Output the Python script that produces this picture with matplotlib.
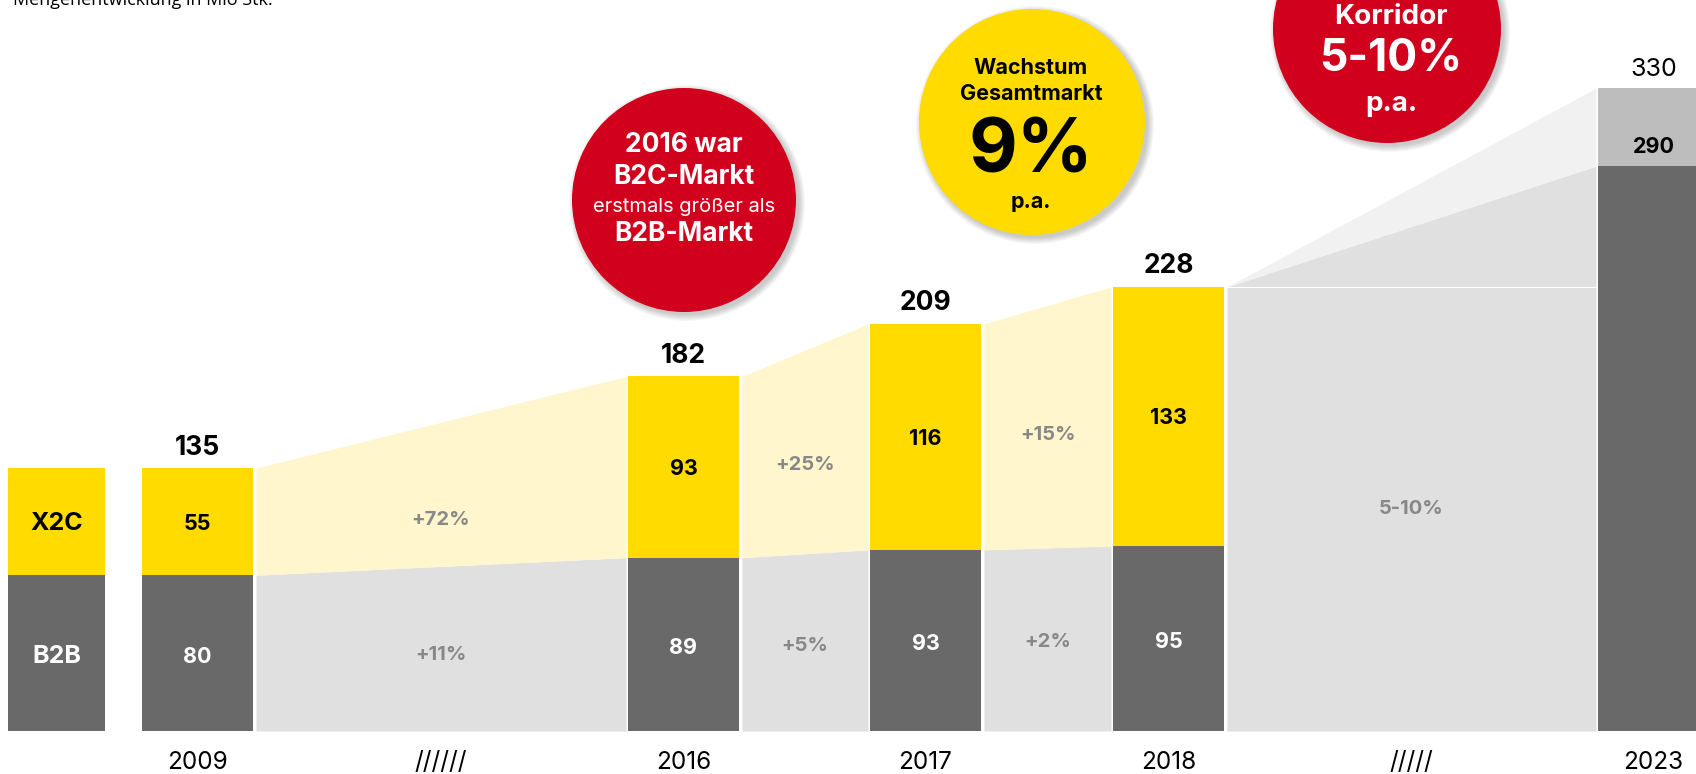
import matplotlib.pyplot as plt
from matplotlib.patches import Circle

# data (Mio Stk.)
years = ["2009", "2016", "2017", "2018"]
b2b = [80, 89, 93, 95]
x2c = [55, 93, 116, 133]
totals = [135, 182, 209, 228]
b2b_growth = ["+11%", "+5%", "+2%"]
x2c_growth = ["+72%", "+25%", "+15%"]
gap_marks = ["//////", "", "", "/////"]

forecast_year = "2023"
forecast_low = 290
forecast_high = 330
forecast_growth = "5-10%"

# colours
YEL = "#FFDB00"
YEL_LIGHT = "#FFF6CE"
DARK = "#696969"
GREY = "#E0E0E0"
GREY_LIGHT = "#F1F1F1"
GREY_MID = "#BDBDBD"
RED = "#D1001C"
TXT_GREY = "#888888"

plt.rcParams["font.family"] = ["Inter", "DejaVu Sans"]

W = 111
bar_left = [142, 628, 870, 1113]
fc_left = 1598
xc = [l + W / 2 for l in bar_left]
xf = fc_left + W / 2

px_per_unit = 1.948
fig = plt.figure(figsize=(16.96, 7.74), dpi=100)
ax = fig.add_axes([0, 0, 1, 1])
ax.set_xlim(0, 1696)
ax.set_ylim(-(774 - 731) / px_per_unit, 731 / px_per_unit)
ax.axis("off")

# legend bar
ax.bar(56.5, b2b[0], width=97, color=DARK)
ax.bar(56.5, x2c[0], bottom=b2b[0], width=97, color=YEL)
ax.text(56.5, b2b[0] / 2 - 1.5, "B2B", ha="center", va="center",
        color="white", fontsize=18, fontweight="bold")
ax.text(56.5, b2b[0] + x2c[0] / 2 - 1, "X2C", ha="center", va="center",
        color="black", fontsize=18, fontweight="bold")

# bars
ax.bar(xc, b2b, width=W, color=DARK)
ax.bar(xc, x2c, bottom=b2b, width=W, color=YEL)
ax.bar(xf, forecast_low, width=W, color=DARK)
ax.bar(xf, forecast_high - forecast_low, bottom=forecast_low, width=W,
       color=GREY_MID)

# connecting areas
for i in range(len(years) - 1):
    x0 = bar_left[i] + W + 3
    x1 = bar_left[i + 1] - 2
    ax.fill_between([x0, x1], 0, [b2b[i], b2b[i + 1]], color=GREY, lw=0)
    ax.fill_between([x0, x1], [b2b[i], b2b[i + 1]],
                    [totals[i], totals[i + 1]], color=YEL_LIGHT, lw=0)
    xm = (x0 + x1) / 2
    ax.text(xm, b2b[i] / 2 - 1, b2b_growth[i], ha="center", va="center",
            color=TXT_GREY, fontsize=14.5, fontweight="bold")
    ax.text(xm, b2b[i] + x2c[i] / 2 + 1, x2c_growth[i], ha="center",
            va="center", color=TXT_GREY, fontsize=14.5, fontweight="bold")

# forecast corridor
x0 = bar_left[-1] + W + 3
x1 = fc_left - 2
ax.fill_between([x0, x1], 0, [totals[-1], forecast_low], color=GREY, lw=0)
ax.fill_between([x0, x1], [totals[-1], forecast_low],
                [totals[-1], forecast_high], color=GREY_LIGHT, lw=0)
ax.plot([x0, x1], [totals[-1], totals[-1]], color="white", lw=0.8)
ax.text((x0 + x1) / 2, totals[-1] / 2, forecast_growth, ha="center",
        va="center", color=TXT_GREY, fontsize=14.5, fontweight="bold")

# bar labels
for i in range(len(years)):
    ax.text(xc[i], b2b[i] / 2 - 2, str(b2b[i]), ha="center", va="center",
            color="white", fontsize=15.5, fontweight="bold")
    ax.text(xc[i], b2b[i] + x2c[i] / 2 - 1, str(x2c[i]), ha="center",
            va="center", color="black", fontsize=15.5, fontweight="bold")
    ax.text(xc[i], totals[i] + 10.5, str(totals[i]), ha="center",
            va="center", color="black", fontsize=19, fontweight="bold")
    ax.text(xc[i], -16, years[i], ha="center", va="center", color="black",
            fontsize=17.5)
ax.text(xf, forecast_low + 10, str(forecast_low), ha="center", va="center",
        color="black", fontsize=15.5, fontweight="bold")
ax.text(xf, forecast_high + 9.5, str(forecast_high), ha="center",
        va="center", color="black", fontsize=18)
ax.text(xf, -16, forecast_year, ha="center", va="center", color="black",
        fontsize=17.5)

# slashes under the gaps
gap_x = [(bar_left[0] + W + bar_left[1]) / 2, 0, 0,
         (bar_left[-1] + W + fc_left) / 2]
for gx, mark in zip(gap_x, gap_marks):
    if mark:
        ax.text(gx, -16, mark, ha="center", va="center", color="black",
                fontsize=17.5)

# overlay in pixel coordinates for circles
ov = fig.add_axes([0, 0, 1, 1])
ov.set_xlim(0, 1696)
ov.set_ylim(774, 0)
ov.axis("off")
ov.patch.set_alpha(0)


def bubble(cx, cy, r, color):
    for k in range(7):
        ov.add_patch(Circle((cx + 3, cy + 3), r + k, color="black",
                            alpha=0.03, lw=0))
    ov.add_patch(Circle((cx, cy), r, color=color, lw=0))


bubble(684, 200, 112, RED)
ov.text(684, 145, "2016 war", ha="center", va="center", color="white",
        fontsize=19, fontweight="bold")
ov.text(684, 177, "B2C-Markt", ha="center", va="center", color="white",
        fontsize=19, fontweight="bold")
ov.text(684, 207, "erstmals größer als", ha="center", va="center",
        color="white", fontsize=14.5)
ov.text(684, 234, "B2B-Markt", ha="center", va="center", color="white",
        fontsize=19, fontweight="bold")

bubble(1032, 122, 113, YEL)
ov.text(1031, 68, "Wachstum", ha="center", va="center", color="black",
        fontsize=15.5, fontweight="bold")
ov.text(1031, 94, "Gesamtmarkt", ha="center", va="center", color="black",
        fontsize=15.5, fontweight="bold")
ov.text(1031, 153, "9%", ha="center", va="center", color="black",
        fontsize=54, fontweight="bold")
ov.text(1031, 202, "p.a.", ha="center", va="center", color="black",
        fontsize=15.5, fontweight="bold")

bubble(1387, 29, 114, RED)
ov.text(1391, 17, "Korridor", ha="center", va="center", color="white",
        fontsize=20, fontweight="bold")
ov.text(1391, 59, "5-10%", ha="center", va="center", color="white",
        fontsize=32, fontweight="bold")
ov.text(1391, 104, "p.a.", ha="center", va="center", color="white",
        fontsize=20, fontweight="bold")

# title (cut at top edge, as in the original)
ov.text(13, 5, "Mengenentwicklung in Mio Stk.", ha="left", va="baseline",
        color="black", fontsize=13, family=["Open Sans", "DejaVu Sans"])

fig.savefig("out.png", dpi=100)
